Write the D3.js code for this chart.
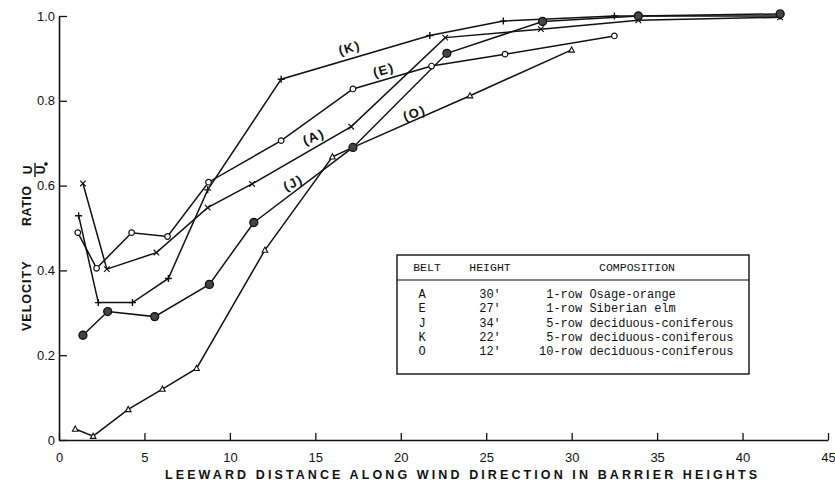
<!DOCTYPE html>
<html>
<head>
<meta charset="utf-8">
<script src="https://cdn.jsdelivr.net/npm/d3@7"></script>
<style>
  body { margin: 0; background: #fff; }
  svg { display: block; }
  text { fill: #111; }
</style>
</head>
<body>
<svg width="835" height="485"></svg>
<script>
// belt names and readings (leeward distance in barrier heights, u/u0)
var belts = ["A", "E", "J", "K", "O"];

var xA = [1.4, 2.8, 5.7, 8.7, 11.3, 17.1, 22.6, 28.2, 33.9, 42.2];
var yA = [0.605, 0.403, 0.442, 0.548, 0.604, 0.739, 0.949, 0.969, 0.99, 0.997];

var xE = [1.1, 2.2, 4.25, 6.35, 8.75, 13.0, 17.2, 21.8, 26.1, 32.5];
var yE = [0.489, 0.405, 0.489, 0.48, 0.608, 0.706, 0.828, 0.882, 0.91, 0.953];

var xJ = [1.4, 2.85, 5.6, 8.8, 11.4, 17.2, 22.7, 28.3, 33.9, 42.2];
var yJ = [0.247, 0.303, 0.291, 0.367, 0.513, 0.69, 0.912, 0.987, 1.0, 1.005];

var xK = [1.15, 2.3, 4.3, 6.4, 8.7, 13.0, 21.7, 26.0, 32.5, 42.2];
var yK = [0.529, 0.324, 0.324, 0.381, 0.59, 0.851, 0.954, 0.988, 1.0, 1.0];

var xO = [0.95, 2.0, 4.05, 6.05, 8.05, 12.05, 16.0, 17.2, 24.05, 30.0];
var yO = [0.026, 0.009, 0.072, 0.12, 0.169, 0.448, 0.668, 0.69, 0.812, 0.92];

var xTicks = [0, 5, 10, 15, 20, 25, 30, 35, 40, 45];
var yTicks = [0, 0.2, 0.4, 0.6, 0.8, 1.0];

// legend table rows
var heights = ["30'", "27'", "34'", "22'", "12'"];
var compositions = [" 1-row Osage-orange", " 1-row Siberian elm", " 5-row deciduous-coniferous",
                    " 5-row deciduous-coniferous", "10-row deciduous-coniferous"];

var svg = d3.select("svg");

var x = d3.scaleLinear().domain([0, 45]).range([59, 828]);
var y = d3.scaleLinear().domain([0, 1]).range([440, 16]);

var axisFont = "'Liberation Sans', Arial, sans-serif";

// axes, ticks pointing inward
var gx = svg.append("g")
	.attr("transform", "translate(0," + y(0) + ")")
	.call(d3.axisBottom(x).tickValues(xTicks).tickSizeInner(-7).tickSizeOuter(0).tickPadding(13));
var gy = svg.append("g")
	.attr("transform", "translate(" + x(0) + ",0)")
	.call(d3.axisLeft(y).tickValues(yTicks).tickSizeInner(-8).tickSizeOuter(0).tickPadding(12)
		.tickFormat(function(d) { return d === 0 ? "0" : d3.format(".1f")(d); }));

[gx, gy].forEach(function(g) {
	g.select(".domain").attr("stroke", "#111").attr("stroke-width", 1.6);
	g.selectAll(".tick line").attr("stroke", "#111").attr("stroke-width", 1.3);
	g.selectAll(".tick text").attr("font-family", axisFont).attr("font-size", 13).attr("fill", "#111");
});
gy.selectAll(".tick text").attr("dx", 8);

// axis titles
svg.append("text")
	.attr("x", 165).attr("y", 479)
	.attr("textLength", 592).attr("lengthAdjust", "spacing")
	.attr("font-family", axisFont).attr("font-size", 12.5).attr("font-weight", "bold")
	.text("LEEWARD DISTANCE ALONG WIND DIRECTION IN BARRIER HEIGHTS");

svg.append("text")
	.attr("transform", "translate(31,331) rotate(-90)")
	.attr("letter-spacing", 1)
	.attr("font-family", axisFont).attr("font-size", 12.5).attr("font-weight", "bold")
	.text("VELOCITY");
svg.append("text")
	.attr("transform", "translate(31,226) rotate(-90)")
	.attr("letter-spacing", 0.5)
	.attr("font-family", axisFont).attr("font-size", 12.5).attr("font-weight", "bold")
	.text("RATIO");

// the u / u0 fraction, turned with the title
var frac = svg.append("g").attr("transform", "translate(34,170) rotate(-90)");
frac.append("text").attr("x", 0).attr("y", -2).attr("text-anchor", "middle")
	.attr("font-family", axisFont).attr("font-size", 12).attr("font-weight", "bold").text("U");
frac.append("line").attr("x1", -7).attr("x2", 7).attr("y1", 1).attr("y2", 1)
	.attr("stroke", "#111").attr("stroke-width", 1.4);
frac.append("text").attr("x", 0).attr("y", 11).attr("text-anchor", "middle")
	.attr("font-family", axisFont).attr("font-size", 12).attr("font-weight", "bold").text("U");
frac.append("circle").attr("cx", 6).attr("cy", 12).attr("r", 1.8).attr("fill", "#111");

// build series from the arrays
var series = [
	{ name: "O", xs: xO, ys: yO },
	{ name: "E", xs: xE, ys: yE },
	{ name: "K", xs: xK, ys: yK },
	{ name: "A", xs: xA, ys: yA },
	{ name: "J", xs: xJ, ys: yJ }
];

var line = d3.line()
	.x(function(d) { return x(d[0]); })
	.y(function(d) { return y(d[1]); });

series.forEach(function(s) {
	s.points = s.xs.map(function(v, i) { return [v, s.ys[i]]; });
});

svg.append("g").selectAll("path")
	.data(series)
	.enter().append("path")
		.attr("d", function(s) { return line(s.points); })
		.attr("fill", "none")
		.attr("stroke", "#111")
		.attr("stroke-width", 1.5);

// markers
function drawMarker(g, name) {
	if (name === "A") {
		g.append("path").attr("d", "M-2.8,-2.8L2.8,2.8M-2.8,2.8L2.8,-2.8")
			.attr("stroke", "#111").attr("stroke-width", 1.2);
	} else if (name === "K") {
		g.append("path").attr("d", "M-3.5,0L3.5,0M0,-3.5L0,3.5")
			.attr("stroke", "#111").attr("stroke-width", 1.4);
	} else if (name === "E") {
		g.append("circle").attr("r", 2.8).attr("fill", "#fff")
			.attr("stroke", "#111").attr("stroke-width", 1.2);
	} else if (name === "J") {
		g.append("circle").attr("r", 4).attr("fill", "#444")
			.attr("stroke", "#111").attr("stroke-width", 1.3);
	} else {
		g.append("path").attr("d", "M0,-3L2.8,2.2L-2.8,2.2Z").attr("fill", "#fff")
			.attr("stroke", "#111").attr("stroke-width", 1.1);
	}
}

series.forEach(function(s) {
	svg.append("g").selectAll("g")
		.data(s.points)
		.enter().append("g")
			.attr("transform", function(d) { return "translate(" + x(d[0]) + "," + y(d[1]) + ")"; })
			.each(function() { drawMarker(d3.select(this), s.name); });
});

// curve labels placed in data units
var curveLabels = [
	{ name: "K", at: [17.0, 0.925], rot: -16 },
	{ name: "E", at: [19.0, 0.873], rot: -16 },
	{ name: "A", at: [14.9, 0.715], rot: -22 },
	{ name: "J", at: [13.7, 0.607], rot: -26 },
	{ name: "O", at: [20.8, 0.771], rot: -20 }
];

svg.append("g").selectAll("text")
	.data(curveLabels)
	.enter().append("text")
		.attr("transform", function(d) {
			return "translate(" + x(d.at[0]) + "," + y(d.at[1]) + ") rotate(" + d.rot + ")";
		})
		.attr("text-anchor", "middle")
		.attr("dy", "0.35em")
		.attr("font-family", axisFont)
		.attr("font-size", 13)
		.attr("font-weight", "bold")
		.attr("letter-spacing", 1.5)
		.text(function(d) { return "(" + d.name + ")"; });

// legend table
var mono = "'Liberation Mono', 'Courier New', monospace";
var table = svg.append("g");
table.append("rect")
	.attr("x", 397).attr("y", 255).attr("width", 352).attr("height", 119)
	.attr("fill", "#fff").attr("stroke", "#111").attr("stroke-width", 1.4);
table.append("line")
	.attr("x1", 397).attr("x2", 749).attr("y1", 280).attr("y2", 280)
	.attr("stroke", "#111").attr("stroke-width", 1.1);

var header = [["BELT", 427], ["HEIGHT", 490], ["COMPOSITION", 637]];
table.selectAll("text.head")
	.data(header)
	.enter().append("text")
		.attr("class", "head")
		.attr("x", function(d) { return d[1]; })
		.attr("y", 271)
		.attr("text-anchor", "middle")
		.attr("font-family", mono).attr("font-size", 11.5)
		.text(function(d) { return d[0]; });

var rows = table.selectAll("g.row")
	.data(belts)
	.enter().append("g")
		.attr("class", "row")
		.attr("transform", function(d, i) { return "translate(0," + (298 + i * 14.3) + ")"; });

rows.append("text").attr("x", 422).attr("text-anchor", "middle")
	.attr("font-family", mono).attr("font-size", 12)
	.text(function(d) { return d; });
rows.append("text").attr("x", 490).attr("text-anchor", "middle")
	.attr("font-family", mono).attr("font-size", 12)
	.text(function(d, i) { return heights[i]; });
rows.append("text").attr("x", 539).attr("xml:space", "preserve")
	.style("white-space", "pre")
	.attr("font-family", mono).attr("font-size", 12)
	.text(function(d, i) { return compositions[i]; });
</script>
</body>
</html>
